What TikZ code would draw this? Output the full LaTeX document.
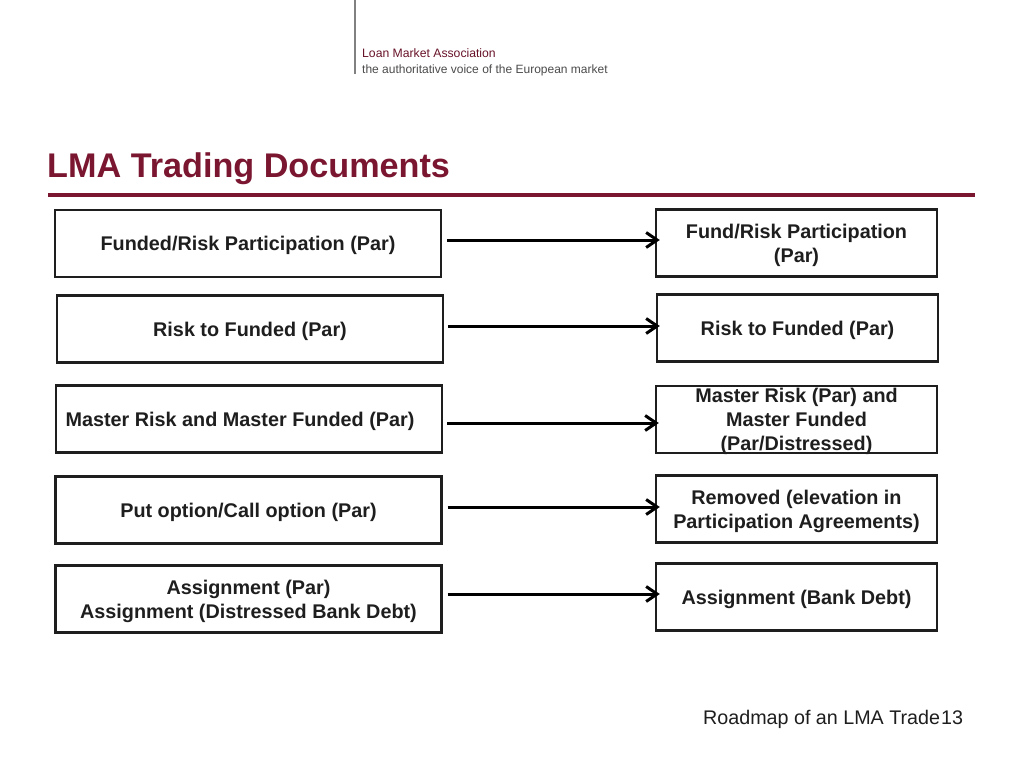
\documentclass[tikz,border=0pt]{standalone}
\usepackage{fontspec}
\setmainfont{Liberation Sans}
\usetikzlibrary{arrows.meta}
\definecolor{lmared}{RGB}{122,22,48}
\definecolor{boxline}{RGB}{30,30,30}
\definecolor{txt}{RGB}{30,30,30}
\definecolor{headgray}{RGB}{75,75,75}
\newcommand{\boxfont}{\fontsize{19.8}{24}\selectfont\bfseries}
\tikzset{
  lbox/.style={draw=boxline, line width=2.4pt, minimum width=386pt, minimum height=67pt,
    inner sep=0pt, align=center, font=\boxfont, text=txt, text depth=-5pt},
  rbox/.style={lbox, minimum width=281pt},
  arr/.style={draw=black, line width=3pt, -{Straight Barb[length=11pt,width=15pt,line width=3pt]}},
}
\begin{document}
\begin{tikzpicture}[x=1pt,y=-1pt]
\useasboundingbox[fill=white] (0,0) rectangle (1024,768);
% header
\draw[headgray!70, line width=1.5pt] (355,0) -- (355,74);
\node[anchor=base west, inner sep=0pt, font=\fontsize{12.2}{14}\selectfont, text=lmared!85!black] (h1) at (362,57) {Loan Market Association};
\node[anchor=base west, inner sep=0pt, font=\fontsize{12}{14}\selectfont, text=headgray] (h2) at (362,74) {the authoritative voice of the European market};
% title
\node[anchor=base west, inner sep=0pt, font=\fontsize{34.2}{40}\selectfont\bfseries, text=lmared] (title) at (47,177) {LMA Trading Documents};
\draw[lmared, line width=4pt] (48,195) -- (975,195);
% left boxes
\node[lbox] (L1) at (248,243.5) {Funded/Risk Participation (Par)};
\node[lbox] (L2) at (250,329) {Risk to Funded (Par)};
\node[lbox] (L3) at (249,419) {\hspace*{-18pt}Master Risk and Master Funded (Par)};
\node[lbox] (L4) at (248.5,510) {Put option/Call option (Par)};
\node[lbox] (L5) at (248.5,599) {Assignment (Par)\\Assignment (Distressed Bank Debt)};
% right boxes
\node[rbox] (R1) at (796.5,243) {Fund/Risk Participation\\(Par)};
\node[rbox] (R2) at (797.5,328) {Risk to Funded (Par)};
\node[rbox] (R3) at (796.5,419.5) {Master Risk (Par) and\\Master Funded\\(Par/Distressed)};
\node[rbox] (R4) at (796.5,509) {Removed (elevation in\\Participation Agreements)};
\node[rbox] (R5) at (796.5,597) {Assignment (Bank Debt)};
% arrows
\draw[arr] ([shift={(5,-3.5)}]L1.east) -- ([shift={(5,-3.5)}]L1.east -| R1.west);
\draw[arr] ([shift={(4,-3)}]L2.east) -- ([shift={(4,-3)}]L2.east -| R2.west);
\draw[arr] ([shift={(4,4)}]L3.east) -- ([shift={(4,4)}]L3.east -| R3.west);
\draw[arr] ([shift={(5,-3)}]L4.east) -- ([shift={(5,-3)}]L4.east -| R4.west);
\draw[arr] ([shift={(5,-5)}]L5.east) -- ([shift={(5,-5)}]L5.east -| R5.west);
% footer
\node[anchor=base west, inner sep=0pt, font=\fontsize{19.7}{22}\selectfont, text=txt] (foot) at (703,724) {Roadmap of an LMA Trade};
\node[anchor=base west, inner sep=0pt, font=\fontsize{19.7}{22}\selectfont, text=txt] (page) at (941,724) {13};
\end{tikzpicture}
\end{document}
